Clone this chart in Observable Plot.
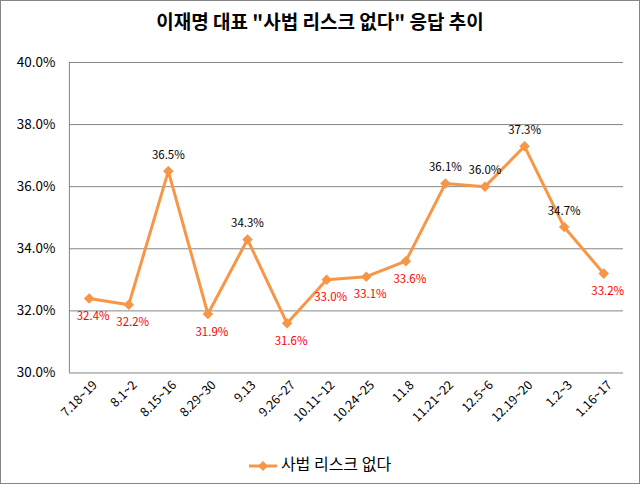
<!DOCTYPE html>
<html><head><meta charset="utf-8">
<script src="https://cdn.jsdelivr.net/npm/d3@7"></script>
<script src="https://cdn.jsdelivr.net/npm/@observablehq/plot@0.6"></script>
<style>
body{margin:0;background:#fff;}
#wrap{position:relative;width:638px;height:482px;border:1px solid #868686;background:#fff;font-family:"Noto Sans CJK KR","Noto Sans",sans-serif;overflow:hidden}
#title{position:absolute;left:0;top:0;width:638px;text-align:center;font-size:19px;font-weight:bold;line-height:40px;color:#000;}
#chart{position:absolute;left:-1px;top:39px;}
#legend{position:absolute;top:450px;left:0;width:638px;text-align:center;font-size:16px;line-height:24px;color:#000;}
#legend svg{vertical-align:middle;margin-right:4px;}
</style>
</head><body>
<div id="wrap">
  <div id="title">이재명 대표 "사법 리스크 없다" 응답 추이</div>
  <div id="chart"></div>
  <div id="legend"></div>
</div>
<script>
const categories = ["7.18~19","8.1~2","8.15~16","8.29~30","9.13","9.26~27","10.11~12","10.24~25","11.8","11.21~22","12.5~6","12.19~20","1.2~3","1.16~17"];
const values = [32.4, 32.2, 36.5, 31.9, 34.3, 31.6, 33.0, 33.1, 33.6, 36.1, 36.0, 37.3, 34.7, 33.2];
const yTicks = [30, 32, 34, 36, 38, 40];
const seriesName = "사법 리스크 없다";

const aboveIdx = [2, 4, 9, 10, 11, 12];
const data = categories.map((c, i) => ({i, cat: c, v: values[i], above: aboveIdx.includes(i)}));
const ORANGE = "#F79646";
const GRID = "#868686";
const fmt = d => d.toFixed(1) + "%";

const chart = Plot.plot({
  width: 640, height: 400,
  marginTop: 22, marginBottom: 67, marginLeft: 69, marginRight: 16,
  style: {fontFamily: '"Noto Sans CJK KR","Noto Sans",sans-serif', fontSize: "13px", background: "transparent", color: "#000"},
  x: {domain: [-0.5, categories.length - 0.5], label: null},
  y: {domain: [30, 40], label: null},
  marks: [
    Plot.ruleY(yTicks, {stroke: GRID, strokeWidth: 1}),
    Plot.ruleX([-0.5], {stroke: GRID, strokeWidth: 1}),
    Plot.axisY({ticks: yTicks, tickFormat: fmt, tickSize: 0, tickPadding: 14, fontSize: 13.5, label: null}),
    Plot.axisX({ticks: d3.range(categories.length), tickFormat: i => categories[i], tickSize: 0, tickPadding: 10, tickRotate: -45, fontSize: 12.5, dx: 6, label: null}),
    Plot.line(data, {x: "i", y: "v", stroke: ORANGE, strokeWidth: 3}),
    Plot.dot(data, {x: "i", y: "v", symbol: "diamond2", r: 3.8, fill: ORANGE, stroke: ORANGE}),
    Plot.text(data.filter(d => d.above), {x: "i", y: "v", text: d => fmt(d.v), dy: -16, fill: "#000", fontSize: 11.5}),
    Plot.text(data.filter(d => !d.above), {x: "i", y: "v", text: d => fmt(d.v), dy: 18, dx: 4, fill: "#FF0000", fontSize: 11.5})
  ]
});
document.getElementById("chart").appendChild(chart);

const leg = document.getElementById("legend");
leg.innerHTML = `<svg width="28" height="12"><line x1="0" y1="6" x2="28" y2="6" stroke="${ORANGE}" stroke-width="3"/><path d="M14,1 L19,6 L14,11 L9,6 Z" fill="${ORANGE}"/></svg><span></span>`;
leg.querySelector("span").textContent = seriesName;
</script>
</body></html>
